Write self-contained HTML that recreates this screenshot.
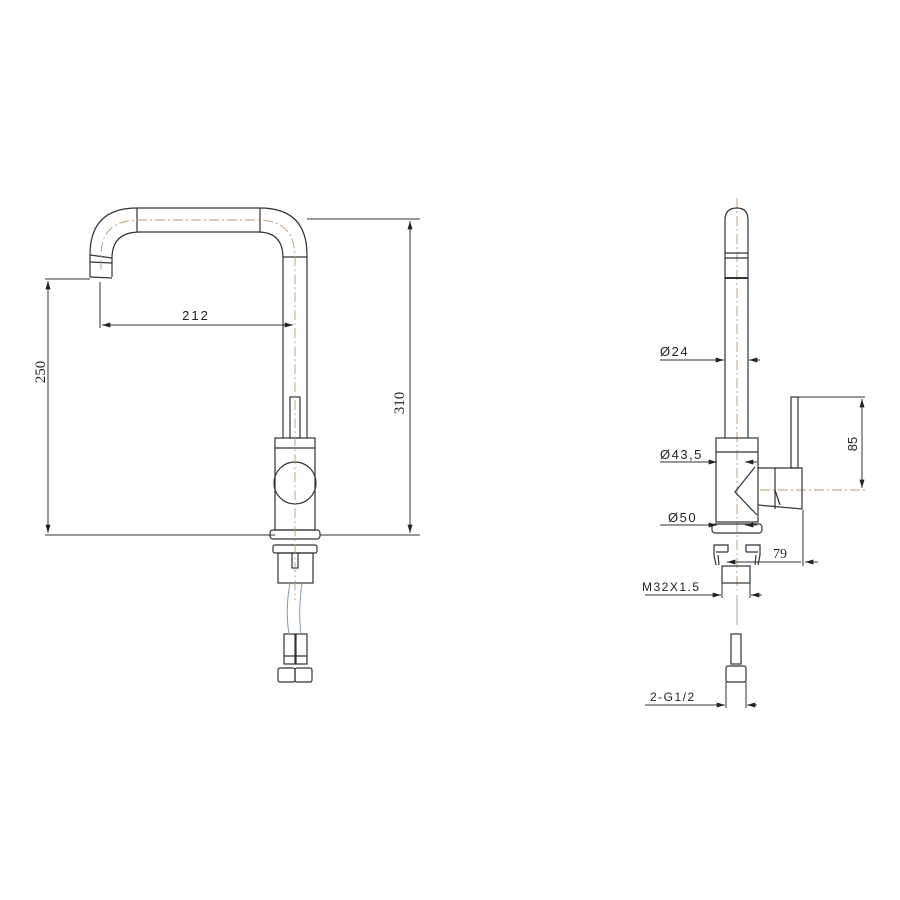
<!DOCTYPE html>
<html><head><meta charset="utf-8"><style>html,body{margin:0;padding:0;background:#fff}svg{display:block}</style></head>
<body>
<svg width="900" height="900" viewBox="0 0 900 900" xmlns="http://www.w3.org/2000/svg" font-family="Liberation Sans, sans-serif">
<defs>
<marker id="a" viewBox="0 0 10 6" refX="10" refY="3" markerWidth="9" markerHeight="5" orient="auto-start-reverse"><path d="M0,0 L10,3 L0,6 Z" fill="#222"/></marker>
</defs>
<g fill="none" stroke="#333" stroke-width="1.2">
<!-- LEFT VIEW: spout -->
<path d="M90,277 L90,255 Q90,208 137,208 L260,208 Q307,208 307,255 L307,438"/>
<path d="M112,277 L112,258 Q112,232 140,232 L258,232 Q283,232 283,258 L283,438"/>
<line x1="90" y1="277" x2="112" y2="278"/>
<line x1="137" y1="208" x2="137" y2="232"/><line x1="260" y1="208" x2="260" y2="232"/>
<line x1="90" y1="255" x2="112" y2="258"/><line x1="90" y1="262" x2="112" y2="263"/>
<line x1="283" y1="257" x2="307" y2="257"/>
<rect x="290" y="397" width="10" height="41"/>
<rect x="275" y="438" width="40" height="92"/>
<line x1="275" y1="448" x2="315" y2="448"/>
<circle cx="295" cy="483" r="21"/>
<rect x="270" y="530" width="50" height="9" rx="3"/>
<rect x="273" y="545" width="44" height="8" rx="2"/>
<rect x="278" y="553" width="35" height="30"/>
<rect x="292" y="553" width="6" height="15"/>
<rect x="284" y="634" width="11" height="30"/><rect x="296" y="634" width="11" height="30"/>
<line x1="284" y1="656" x2="307" y2="656"/>
<rect x="278" y="668" width="17" height="14" rx="2"/><rect x="295" y="668" width="17" height="14" rx="2"/>
</g>
<path d="M290,583 Q285,610 289,634 M302,583 Q298,610 301,634" fill="none" stroke="#8a96b8" stroke-width="1"/>
<g fill="none" stroke="#b69a7a" stroke-width="0.9" stroke-dasharray="10,3,2,3">
<path d="M101,270 L101,255 Q101,220 140,220 L258,220 Q295,220 295,258 L295,600"/>
<line x1="737" y1="198" x2="737" y2="590"/>
<line x1="760" y1="490" x2="865" y2="490"/>
</g>
<g stroke="#333" stroke-width="1" fill="none">
<line x1="45" y1="279" x2="90" y2="279"/>
<line x1="45" y1="535" x2="275" y2="535"/><line x1="320" y1="535" x2="420" y2="535"/>
<line x1="48" y1="281" x2="48" y2="533" marker-start="url(#a)" marker-end="url(#a)"/>
<line x1="307" y1="219" x2="420" y2="219"/>
<line x1="410" y1="221" x2="410" y2="533" marker-start="url(#a)" marker-end="url(#a)"/>
<line x1="100" y1="282" x2="100" y2="328"/>
<line x1="102" y1="325" x2="293" y2="325" marker-start="url(#a)" marker-end="url(#a)"/>
</g>
<text x="196" y="320" font-size="13" text-anchor="middle" fill="#222" letter-spacing="2">212</text>
<text transform="translate(45,372) rotate(-90)" font-size="15" text-anchor="middle" fill="#222" font-family="Liberation Serif, serif">250</text>
<text transform="translate(404,403) rotate(-90)" font-size="15" text-anchor="middle" fill="#222" font-family="Liberation Serif, serif">310</text>
<!-- RIGHT VIEW -->
<g fill="none" stroke="#333" stroke-width="1.2">
<path d="M725,438 L725,220 Q725,208 737,208 Q748,208 748,220 L748,438"/>
<line x1="725" y1="253" x2="748" y2="253"/><line x1="725" y1="258" x2="748" y2="258"/>
<line x1="725" y1="278" x2="748" y2="278" stroke-width="2"/>
<rect x="716" y="438" width="42" height="84"/>
<line x1="716" y1="452" x2="758" y2="452"/>
<path d="M758,468 L802,468 L802,509 L758,505"/>
<line x1="775" y1="468" x2="775" y2="509"/>
<path d="M775,490 L780,505"/>
<path d="M755,467 L735,492 L757,515"/>
<rect x="791" y="397" width="7" height="71"/>
<rect x="712" y="524" width="50" height="9" rx="3"/>
<path d="M714,555 L714,545 L728,545 L728,552 M716,552 L728,552"/>
<path d="M760,555 L760,545 L746,545 L746,552 M758,552 L746,552"/>
<path d="M714,555 L716,565 M718,555 L719,565"/>
<path d="M760,555 L758,565 M756,555 L755,565"/>
<rect x="722" y="566" width="28" height="17"/>
<rect x="731" y="634" width="10" height="30"/>
<rect x="726" y="666" width="20" height="16" rx="2"/>
</g>
<line x1="737" y1="595" x2="737" y2="625" stroke="#9ab" stroke-width="1"/>
<g stroke="#333" stroke-width="1" fill="none">
<line x1="660" y1="360" x2="723" y2="360"/>
<line x1="712" y1="360" x2="724" y2="360" marker-end="url(#a)"/>
<line x1="760" y1="360" x2="749" y2="360" marker-end="url(#a)"/>
<line x1="660" y1="462" x2="715" y2="462"/>
<line x1="705" y1="462" x2="717" y2="462" marker-end="url(#a)"/>
<line x1="745" y1="462" x2="757" y2="462" marker-start="url(#a)"/>
<line x1="660" y1="525" x2="715" y2="525"/>
<line x1="705" y1="525" x2="717" y2="525" marker-end="url(#a)"/>
<line x1="745" y1="525" x2="757" y2="525" marker-start="url(#a)"/>
<line x1="798" y1="397" x2="865" y2="397"/>
<line x1="862" y1="399" x2="862" y2="488" marker-start="url(#a)" marker-end="url(#a)"/>
<line x1="803" y1="510" x2="803" y2="566"/>
<line x1="727" y1="562" x2="801" y2="562" marker-start="url(#a)"/>
<line x1="805" y1="562" x2="818" y2="562" marker-start="url(#a)"/>
<line x1="722" y1="583" x2="722" y2="598"/><line x1="750" y1="583" x2="750" y2="598"/>
<line x1="645" y1="595" x2="720" y2="595"/>
<line x1="710" y1="595" x2="721" y2="595" marker-end="url(#a)"/>
<line x1="762" y1="595" x2="751" y2="595" marker-end="url(#a)"/>
<line x1="726" y1="682" x2="726" y2="708"/><line x1="746" y1="682" x2="746" y2="708"/>
<line x1="645" y1="705" x2="724" y2="705"/>
<line x1="713" y1="705" x2="725" y2="705" marker-end="url(#a)"/>
<line x1="757" y1="705" x2="747" y2="705" marker-end="url(#a)"/>
</g>
<g font-size="13" fill="#222" letter-spacing="1.5">
<text x="660" y="356">Ø24</text>
<text x="660" y="459">Ø43,5</text>
<text x="668" y="522">Ø50</text>
<text x="642" y="591" font-size="12">M32X1.5</text>
<text x="650" y="701" font-size="12">2-G1/2</text>
</g>
<text x="773" y="558" font-size="14" fill="#222" font-family="Liberation Serif, serif">79</text>
<text transform="translate(857,444) rotate(-90)" font-size="13" fill="#222" text-anchor="middle">85</text>
</svg>
</body></html>
